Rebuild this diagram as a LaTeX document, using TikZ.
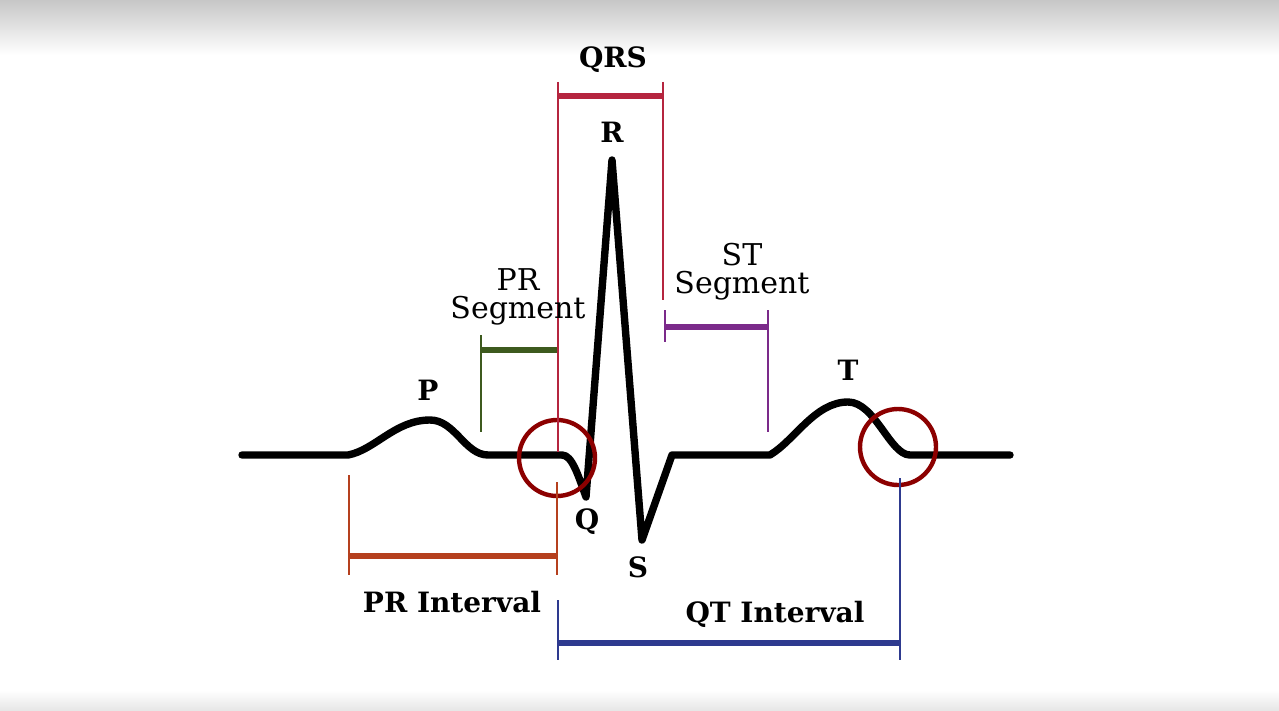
\documentclass[tikz,border=0pt]{standalone}
\usepackage{fontspec}
\setmainfont{DejaVu Serif}
\begin{document}
\begin{tikzpicture}[x=0.5pt,y=-0.5pt,
  lab/.style={font=\fontsize{14}{16}\selectfont\bfseries},
  labn/.style={font=\fontsize{15}{17}\selectfont,align=center},
  thin/.style={line width=0.6pt},
  bar/.style={line width=3pt},
  ring/.style={draw=red!55!black,line width=2.2pt}]
\useasboundingbox (0,0) rectangle (1279,711);
\fill[white] (0,0) rectangle (1279,711);
\shade[top color=black!22,bottom color=white] (0,0) rectangle (1279,55);
\shade[top color=white,bottom color=black!10] (0,690) rectangle (1279,711);
% ECG trace
\draw[line width=3.7pt,line join=round,line cap=round]
 (242,455) -- (348,455) .. controls (375,450) and (395,420) .. (430,420)
 .. controls (455,420) and (465,455) .. (488,455) -- (562,455)
 .. controls (572,455) and (578,475) .. (586,497) -- (612,160) -- (642,540)
 -- (672,455) -- (770,455) .. controls (795,440) and (815,402) .. (848,402)
 .. controls (875,402) and (890,455) .. (910,455) -- (1010,455);
% rings
\node[ring,circle,minimum size=38pt,inner sep=0] (c1) at (557,458) {};
\node[ring,circle,minimum size=38pt,inner sep=0] (c2) at (898,447) {};
% QRS
\definecolor{qrs}{HTML}{B5253F}
\draw[qrs,thin] (558,82) -- (558,452);
\draw[qrs,thin] (663,82) -- (663,300);
\draw[qrs,bar] (558,96) -- (663,96);
\node[lab] (qrs) at (613,60) {QRS};
% PR segment
\definecolor{prs}{HTML}{3D5A1E}
\draw[prs,thin] (481,335) -- (481,432);
\draw[prs,bar] (481,350) -- (557,350);
\node[labn] (prseg) at (518,297) {PR\\[-3pt]Segment};
% ST segment
\definecolor{sts}{HTML}{7B2A8A}
\draw[sts,thin] (665,310) -- (665,342);
\draw[sts,thin] (768,310) -- (768,432);
\draw[sts,bar] (665,327) -- (768,327);
\node[labn] (stseg) at (742,272) {ST\\[-3pt]Segment};
% PR interval
\definecolor{pri}{HTML}{B5401E}
\draw[pri,thin] (349,475) -- (349,575);
\draw[pri,thin] (557,482) -- (557,575);
\draw[pri,bar] (349,556) -- (557,556);
\node[lab] (pri) at (452,602) {PR Interval};
% QT interval
\definecolor{qti}{HTML}{2E3A8F}
\draw[qti,thin] (558,600) -- (558,660);
\draw[qti,thin] (900,478) -- (900,660);
\draw[qti,bar] (558,643) -- (900,643);
\node[lab] (qti) at (775,614) {QT Interval};
% wave labels
\node[lab] (p) at (428,390) {P};
\node[lab] (r) at (612,132) {R};
\node[lab] (q) at (587,522) {Q};
\node[lab] (s) at (638,567) {S};
\node[lab] (t) at (848,370) {T};
\end{tikzpicture}
\end{document}
